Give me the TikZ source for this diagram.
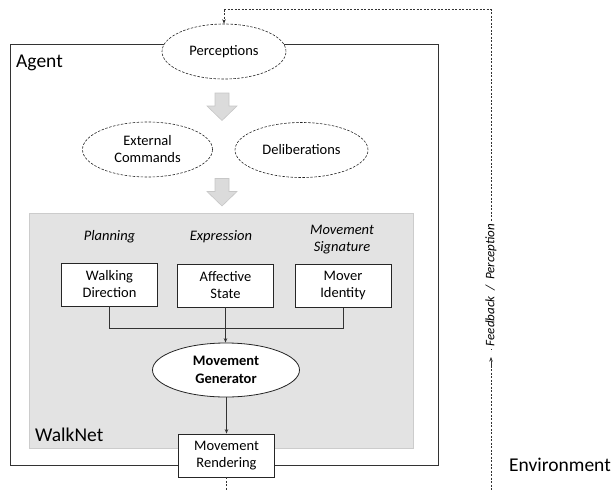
\documentclass[tikz,border=0pt]{standalone}
\usepackage{fontspec}
\setmainfont{Carlito}
\usetikzlibrary{shapes.geometric,arrows.meta}
\newcommand{\bodyfont}{\fontsize{14.5}{17}\selectfont}
\newcommand{\bigfont}{\fontsize{19.5}{22}\selectfont}
\tikzset{
  dashell/.style={ellipse,draw=black!85,dash pattern=on 2.5pt off 1.5pt,line width=0.6pt,minimum width=#1,minimum height=55pt,inner sep=0pt,align=center,font=\bodyfont},
  dashell/.default=125pt,
  boxnode/.style={draw=black!85,fill=white,line width=0.8pt,minimum width=96pt,minimum height=43pt,inner sep=0pt,align=center,font=\bodyfont},
  cat/.style={font=\bodyfont\itshape,align=center},
  grayarrow/.style={fill=black!14,draw=black!22,line width=0.6pt},
  conn/.style={line width=0.7pt,draw=black!80},
  fb/.style={line width=0.5pt,draw=black!80,dash pattern=on 2pt off 1.5pt},
  tip/.style={-{Stealth[length=4.5pt,width=3.5pt]}}
}
\begin{document}
\begin{tikzpicture}[x=1pt,y=-1pt]
\useasboundingbox (0,0) rectangle (613,491);
% Agent box
\draw[line width=0.9pt,draw=black!80] (10.7,44) rectangle (438.7,465.3);
\node[anchor=base west,font=\bigfont,inner sep=0pt] (agent) at (16,67) {Agent};
% WalkNet box
\draw[fill=black!11,draw=black!20,line width=0.9pt] (29.5,213) rectangle (413.5,448);
\node[anchor=base west,font=\bigfont,inner sep=0pt] (walknet) at (35,441) {WalkNet};
% Perceptions
\node[dashell=124pt,fill=white] (perc) at (224,51.5) {Perceptions};
% gray block arrows
\draw[grayarrow] (215,93) -- (229,93) -- (229,106) -- (237,106) -- (222,120.5) -- (207,106) -- (215,106) -- cycle;
\draw[grayarrow] (215,178.5) -- (229,178.5) -- (229,191.5) -- (237,191.5) -- (222,206) -- (207,191.5) -- (215,191.5) -- cycle;
% ellipses
\node[dashell=130pt] (ext) at (147.5,149.5) {External\\Commands};
\node[dashell=133pt] (del) at (301.5,150) {Deliberations};
% categories
\node[cat] (plan) at (109.5,237) {Planning};
\node[cat] (expr) at (221,237) {Expression};
\node[cat] (sig) at (342,240) {Movement\\Signature};
% boxes
\node[boxnode] (walk) at (109.5,284.5) {Walking\\Direction};
\node[boxnode] (aff) at (225.5,285.5) {Affective\\State};
\node[boxnode] (mover) at (343,286) {Mover\\Identity};
% generator
\node[ellipse,draw=black!85,fill=white,line width=0.8pt,minimum width=147pt,minimum height=54pt,inner sep=0pt,align=center,font=\fontsize{14.5}{18}\selectfont\bfseries] (gen) at (226,370) {Movement\\Generator};
% rendering
\node[boxnode] (rend) at (226.5,455.5) {Movement\\Rendering};
% connectors
\coordinate (join) at (225.5,328);
\draw[conn] (walk.south) |- (join);
\draw[conn] (mover.south) |- (join);
\draw[conn,tip] (aff.south) -- (aff.south |- gen.north);
\draw[conn,tip] (gen.south -| rend.north) -- (rend.north);
% feedback loop
\coordinate (fbbot) at (226.5,491);
\coordinate (fbr) at (491,491);
\coordinate (fbarr) at (491,357);
\coordinate (fbtr) at (491,9.5);
\coordinate (fbtl) at (224,9.5);
\draw[fb] (rend.south) -- (fbbot);
\draw[fb] (fbtl) -- (fbtr) -- (fbr);
\node[rotate=90,fill=white,inner sep=3pt,font=\fontsize{13}{15}\selectfont\itshape] (fblabel) at (491,285) {Feedback~~/~~Perception};
\fill[white] (486,352) rectangle (496,362);
\draw[fb,tip] (491,366) -- (fbarr);
\draw[fb,tip] (fbtl) -- (perc.north);
\node[anchor=base west,font=\bigfont,inner sep=0pt] (env) at (509,471) {Environment};
\end{tikzpicture}
\end{document}
